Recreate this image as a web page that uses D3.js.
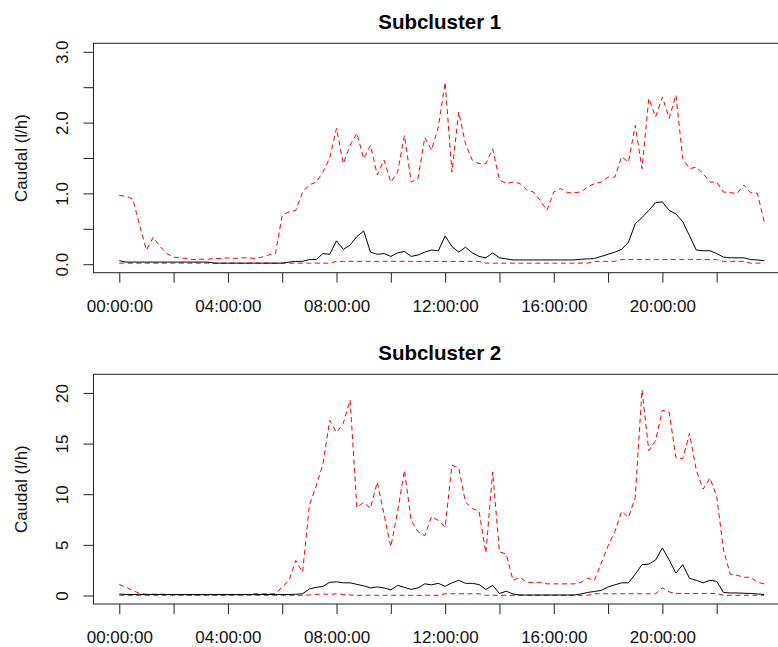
<!DOCTYPE html>
<html><head><meta charset="utf-8">
<script src="https://cdn.jsdelivr.net/npm/d3@7/dist/d3.min.js"></script>
<style>body{margin:0;background:#fff}svg{display:block}</style>
</head><body>
<svg id="chart" width="778" height="647"></svg>
<script>
// time grid: 15-minute steps, hours since midnight (96 points)
const hours = d3.range(96).map(i => i / 4);
const xTickHours = [0, 2, 4, 6, 8, 10, 12, 14, 16, 18, 20, 22];
const xTickLabels = ["00:00:00", "", "04:00:00", "", "08:00:00", "", "12:00:00", "", "16:00:00", "", "20:00:00", ""];

const titles = ["Subcluster 1", "Subcluster 2"];
const yLabel = "Caudal (l/h)";

// Subcluster 1
const s1Upper = [0.97,0.96,0.92,0.55,0.20,0.38,0.25,0.15,0.10,0.09,0.08,0.065,0.07,0.07,0.08,0.08,
  0.09,0.08,0.09,0.09,0.08,0.10,0.13,0.15,0.69,0.74,0.76,1.02,1.12,1.16,1.30,1.50,
  1.92,1.42,1.68,1.85,1.49,1.68,1.26,1.47,1.16,1.30,1.82,1.16,1.21,1.79,1.61,1.94,
  2.57,1.30,2.15,1.70,1.47,1.42,1.42,1.63,1.19,1.14,1.16,1.14,1.05,1.02,0.90,0.76,
  1.02,1.07,1.01,1.01,1.02,1.09,1.14,1.16,1.23,1.23,1.52,1.44,1.96,1.35,2.34,2.08,
  2.36,2.06,2.39,1.49,1.35,1.37,1.28,1.16,1.16,1.02,1.01,1.00,1.12,1.01,1.00,0.60];
const s1Mean = [0.05,0.03,0.03,0.03,0.03,0.03,0.03,0.03,0.03,0.03,0.03,0.03,0.03,0.03,0.015,0.015,
  0.015,0.015,0.015,0.015,0.015,0.015,0.015,0.015,0.015,0.03,0.04,0.04,0.065,0.065,0.15,0.14,
  0.33,0.21,0.27,0.39,0.47,0.17,0.14,0.15,0.11,0.16,0.18,0.11,0.13,0.17,0.20,0.19,
  0.40,0.25,0.17,0.24,0.16,0.11,0.09,0.16,0.09,0.075,0.06,0.06,0.06,0.06,0.06,0.06,
  0.06,0.06,0.06,0.06,0.07,0.075,0.08,0.11,0.14,0.17,0.21,0.31,0.57,0.66,0.76,0.87,
  0.88,0.76,0.71,0.60,0.40,0.20,0.19,0.19,0.15,0.10,0.09,0.09,0.09,0.065,0.06,0.05];
const s1Lower = [0.015,0.015,0.015,0.015,0.015,0.015,0.015,0.015,0.015,0.015,0.015,0.015,0.015,0.015,0.015,0.015,
  0.015,0.015,0.015,0.015,0.015,0.015,0.015,0.015,0.015,0.015,0.015,0.015,0.015,0.015,0.015,0.015,
  0.04,0.04,0.04,0.04,0.04,0.04,0.04,0.04,0.04,0.04,0.04,0.04,0.04,0.04,0.04,0.04,
  0.04,0.04,0.04,0.04,0.04,0.04,0.015,0.015,0.015,0.015,0.015,0.015,0.015,0.015,0.015,0.015,
  0.015,0.015,0.015,0.015,0.015,0.015,0.04,0.04,0.04,0.04,0.065,0.065,0.065,0.065,0.065,0.065,
  0.065,0.065,0.065,0.065,0.065,0.065,0.065,0.065,0.065,0.04,0.04,0.04,0.04,0.015,0.015,0.015];

// Subcluster 2
const s2Upper = [1.09,0.82,0.49,0.20,0.12,0.12,0.12,0.12,0.08,0.05,0.05,0.05,0.05,0.05,0.05,0.05,
  0.05,0.05,0.08,0.10,0.17,0.17,0.17,0.17,0.85,1.48,3.46,2.30,8.9,10.8,13.0,17.3,
  16.1,17.0,19.3,8.7,9.2,8.6,11.2,8.0,4.8,8.3,12.35,7.4,6.3,5.9,7.8,7.4,
  6.75,12.85,12.6,9.2,8.6,8.3,4.2,12.2,4.3,4.1,1.5,1.8,1.3,1.3,1.3,1.15,
  1.15,1.15,1.15,1.15,1.3,1.7,1.5,3.2,4.9,6.3,8.3,7.7,9.65,20.3,14.3,15.3,
  18.3,18.1,13.6,13.5,16.0,12.35,10.5,11.6,9.8,4.5,2.1,2.0,1.8,1.8,1.3,1.15];
const s2Mean = [0.15,0.1,0.1,0.1,0.1,0.1,0.1,0.1,0.1,0.1,0.1,0.1,0.1,0.1,0.1,0.1,
  0.1,0.1,0.1,0.1,0.1,0.1,0.1,0.1,0.1,0.1,0.12,0.17,0.65,0.8,0.9,1.3,
  1.35,1.25,1.25,1.1,0.95,0.75,0.85,0.75,0.55,1.0,0.8,0.6,0.75,1.15,1.05,1.2,
  0.9,1.25,1.5,1.2,1.2,1.08,0.6,1.0,0.2,0.42,0.15,0.05,0.05,0.05,0.05,0.05,
  0.05,0.05,0.05,0.05,0.15,0.3,0.4,0.5,0.85,1.05,1.25,1.25,2.1,3.05,3.1,3.5,
  4.7,3.5,2.2,3.05,1.7,1.5,1.25,1.5,1.4,0.3,0.25,0.25,0.22,0.2,0.15,0.1];
const s2Lower = [0.02,0.02,0.02,0.02,0.02,0.02,0.02,0.02,0.02,0.02,0.02,0.02,0.02,0.02,0.02,0.02,
  0.02,0.02,0.02,0.02,0.02,0.02,0.02,0.02,0.02,0.02,0.02,0.02,0.05,0.1,0.15,0.1,
  0.17,0.1,0.05,0.02,0.02,0.02,0.02,0.02,0.02,0.02,0.02,0.02,0.02,0.02,0.02,0.02,
  0.17,0.17,0.17,0.17,0.17,0.17,0.02,0.02,0.02,0.02,0.02,0.02,0.02,0.02,0.02,0.02,
  0.02,0.02,0.02,0.02,0.02,0.02,0.17,0.17,0.17,0.17,0.17,0.17,0.17,0.17,0.17,0.17,
  0.75,0.35,0.2,0.2,0.2,0.2,0.2,0.2,0.2,0.02,0.02,0.02,0.02,0.02,0.02,0.02];

const panels = [
  {title: titles[0], upper: s1Upper, mean: s1Mean, lower: s1Lower, yMax: 3,
   yTicks: [0,0.5,1,1.5,2,2.5,3], yLabelTicks: [0,1,2,3], fmt: d3.format(".1f"), top: 43.3, bottom: 272.7},
  {title: titles[1], upper: s2Upper, mean: s2Mean, lower: s2Lower, yMax: 21,
   yTicks: [0,5,10,15,20], yLabelTicks: [0,5,10,15,20], fmt: d3.format("d"), top: 374.3, bottom: 604}
];

const svg = d3.select("#chart");
const FONT = "'Liberation Sans', Arial, sans-serif";
const left = 93.5, right = 790;
const xPad = 0.04 * (hours[hours.length - 1] - hours[0]);
const x = d3.scaleLinear().domain([hours[0] - xPad, hours[hours.length - 1] + xPad]).range([left, right]);

panels.forEach(p => {
  const yPad = 0.04 * p.yMax;
  const y = d3.scaleLinear().domain([-yPad, p.yMax + yPad]).range([p.bottom, p.top]);
  const g = svg.append("g");

  // x axis
  const xa = g.append("g").attr("transform", `translate(0,${p.bottom})`)
    .call(d3.axisBottom(x).tickValues(xTickHours).tickSize(10).tickFormat((d, i) => xTickLabels[i]));
  xa.select(".domain").remove();
  xa.selectAll(".tick line").attr("stroke", "#222");
  xa.selectAll(".tick text").attr("y", 39).attr("dy", null)
    .attr("font-family", FONT).attr("font-size", 17).attr("fill", "#111");

  // y axis
  const ya = g.append("g").attr("transform", `translate(${left},0)`)
    .call(d3.axisLeft(y).tickValues(p.yTicks).tickSize(10)
      .tickFormat(d => p.yLabelTicks.includes(d) ? p.fmt(d) : ""));
  ya.select(".domain").remove();
  ya.selectAll(".tick line").attr("stroke", "#222");
  ya.selectAll(".tick text").attr("x", null).attr("dy", null)
    .attr("transform", "translate(-25.5,0) rotate(-90)")
    .attr("text-anchor", "middle")
    .attr("font-family", FONT).attr("font-size", 17).attr("fill", "#111");

  // lines
  const line = d3.line().x((d, i) => x(hours[i])).y(d => y(d));
  g.append("path").datum(p.upper).attr("d", line).attr("fill", "none")
    .attr("stroke", "#ff0000").attr("stroke-width", 1).attr("stroke-dasharray", "5,3.5")
    .attr("stroke-linejoin", "round");
  g.append("path").datum(p.lower).attr("d", line).attr("fill", "none")
    .attr("stroke", "#ff0000").attr("stroke-width", 1).attr("stroke-dasharray", "5,3.5")
    .attr("stroke-linejoin", "round");
  g.append("path").datum(p.mean).attr("d", line).attr("fill", "none")
    .attr("stroke", "#000").attr("stroke-width", 1).attr("stroke-linejoin", "round");

  // box
  g.append("rect").attr("x", left).attr("y", p.top)
    .attr("width", right - left).attr("height", p.bottom - p.top)
    .attr("fill", "none").attr("stroke", "#222").attr("stroke-width", 1);

  // title
  g.append("text").attr("x", (left + right) / 2 - 2).attr("y", p.top - 14.3)
    .attr("text-anchor", "middle").attr("font-family", FONT)
    .attr("font-weight", "bold").attr("font-size", 20.5).attr("fill", "#000").text(p.title);

  // y label
  g.append("text").attr("transform", `translate(26.5,${(p.top + p.bottom) / 2}) rotate(-90)`)
    .attr("text-anchor", "middle").attr("font-family", FONT)
    .attr("font-size", 17).attr("fill", "#111").text(yLabel);
});
</script>
</body></html>
